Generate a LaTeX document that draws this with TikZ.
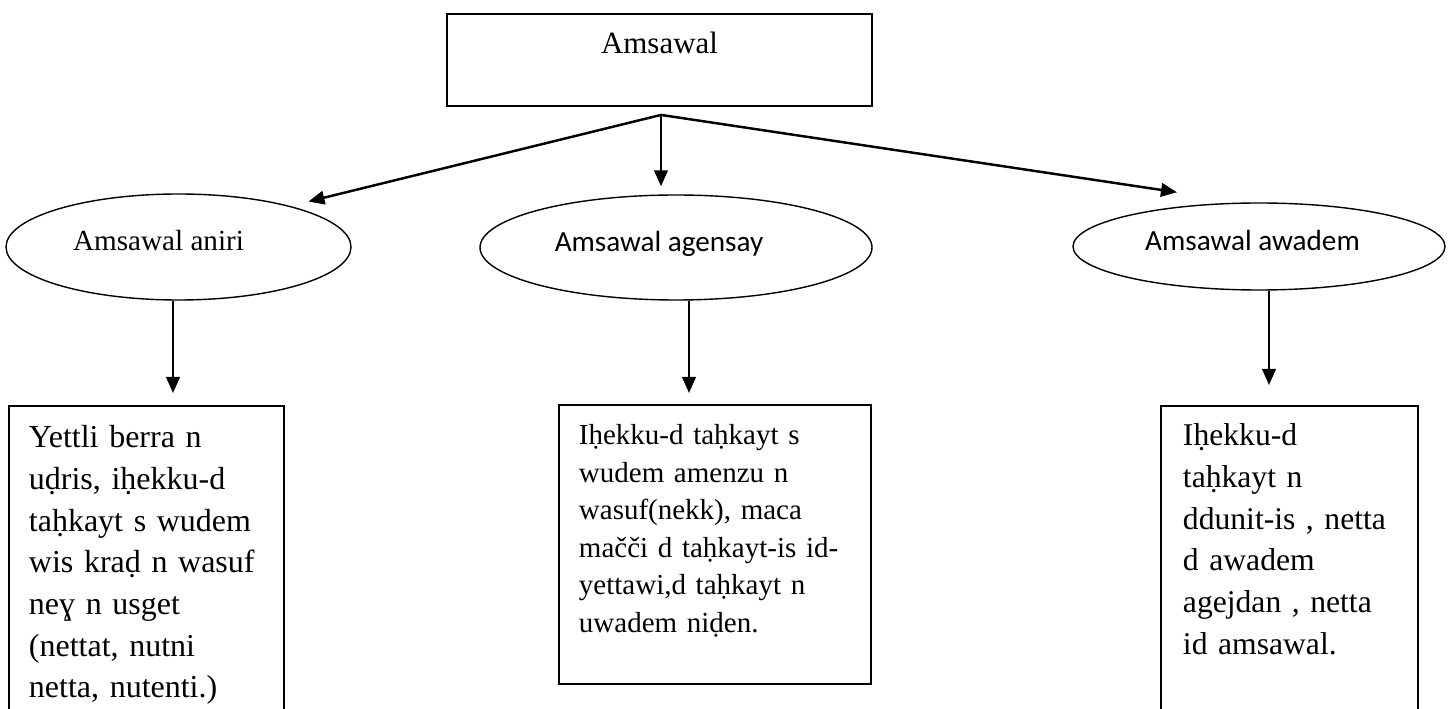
\documentclass[tikz,border=0pt]{standalone}
\usepackage{fontspec}
\setmainfont{Liberation Serif}
\newfontfamily\calibri{Carlito}
\usetikzlibrary{calc}
\usetikzlibrary{shapes.geometric}
\usetikzlibrary{arrows.meta}
\tikzset{
    % A plain filled triangle, as a word processor draws it
    >={Triangle[length=3.2mm, width=2.7mm]},
%
    % Frame round the question word at the top
    title box/.style={
        draw, line width=1.1pt, inner sep=0pt, minimum width=85mm,
        text height=8mm, text depth=10.4mm,
        font=\fontsize{17.6}{21}\selectfont},
%
    % The three kinds of question
    kind/.style={
        draw, ellipse, line width=0.8pt, inner sep=0pt,
        text height=0.7em, text depth=0.25em,
        font=\fontsize{16.6}{20}\selectfont},
%
    % Boxes with the explanations, running off the bottom of the page
    note box/.style={
        draw, line width=1.1pt, anchor=north west, align=left, inner ysep=0pt},
%
    % Connectors
    link/.style={->, line width=1.4pt}}

\begin{document}
\begin{tikzpicture}
\useasboundingbox (0,0) rectangle (290.6mm,-141.8mm);
\clip (0,0) rectangle (290.6mm,-141.8mm);

% Question word
\node [title box, anchor=north] (amsawal) at (131.9mm, -2.6mm) {Amsawal};
\coordinate (fork) at ($(amsawal.south)+(0.3mm,-1.6mm)$);

% Kinds of question
\node [kind, minimum width=69mm, minimum height=21.2mm]
    (aniri) at (35.7mm, -49.4mm) {Amsawal aniri\hspace*{8mm}};
\node [kind, minimum width=78.4mm, minimum height=21mm]
    (agensay) at (135.2mm, -49.5mm) {\calibri Amsawal agensay\hspace*{6.8mm}};
\node [kind, minimum width=74.4mm, minimum height=17.4mm]
    (awadem) at (251.8mm, -49.3mm) {\calibri Amsawal awadem\hspace*{2.6mm}};

\draw [link] (fork) -- ([xshift=1.5mm, yshift=1.5mm]aniri.north east);
\draw [link, shorten >=1.6mm] (fork) -- (fork |- agensay.north);
\draw [link] (fork) -- ([xshift=-16.4mm, yshift=2mm]awadem.north);

% Explanations
\node [note box, inner xsep=4mm, text width=47mm,
    text height=8.4mm, text depth=54.6mm,
    font=\fontsize{18.2}{23.7}\selectfont]
    (aniri note) at (1.6mm, -81mm)
    {Yettli berra n\\uḍris, iḥekku-d\\taḥkayt s wudem\\wis kraḍ n wasuf\\
     neɣ n usget\\(nettat, nutni\\netta, nutenti.)};
\node [note box, inner xsep=4mm, text width=54.4mm,
    text height=8mm, text depth=47.8mm,
    font=\fontsize{16.5}{21.3}\selectfont]
    (agensay note) at (111.6mm, -80.8mm)
    {Iḥekku-d taḥkayt s\\wudem amenzu n\\wasuf(nekk), maca\\
     mačči d taḥkayt-is id-\\yettawi,d taḥkayt n\\uwadem niḍen.};
\node [note box, inner xsep=4.4mm, text width=42.6mm,
    text height=8mm, text depth=55mm,
    font=\fontsize{18}{23.7}\selectfont]
    (awadem note) at (232mm, -81mm)
    {Iḥekku-d\\taḥkayt n\\ddunit-is , netta\\d awadem\\agejdan , netta\\
     id amsawal.};

\draw [link, shorten >=2.4mm] ([xshift=-1.1mm]aniri.south)
    -- ([xshift=-1.1mm]aniri.south |- aniri note.north);
\draw [link, shorten >=2.2mm] ([xshift=2.6mm]agensay.south)
    -- ([xshift=2.6mm]agensay.south |- agensay note.north);
\draw [link, shorten >=4mm] ([xshift=2mm]awadem.south)
    -- ([xshift=2mm]awadem.south |- awadem note.north);

\end{tikzpicture}
\end{document}
